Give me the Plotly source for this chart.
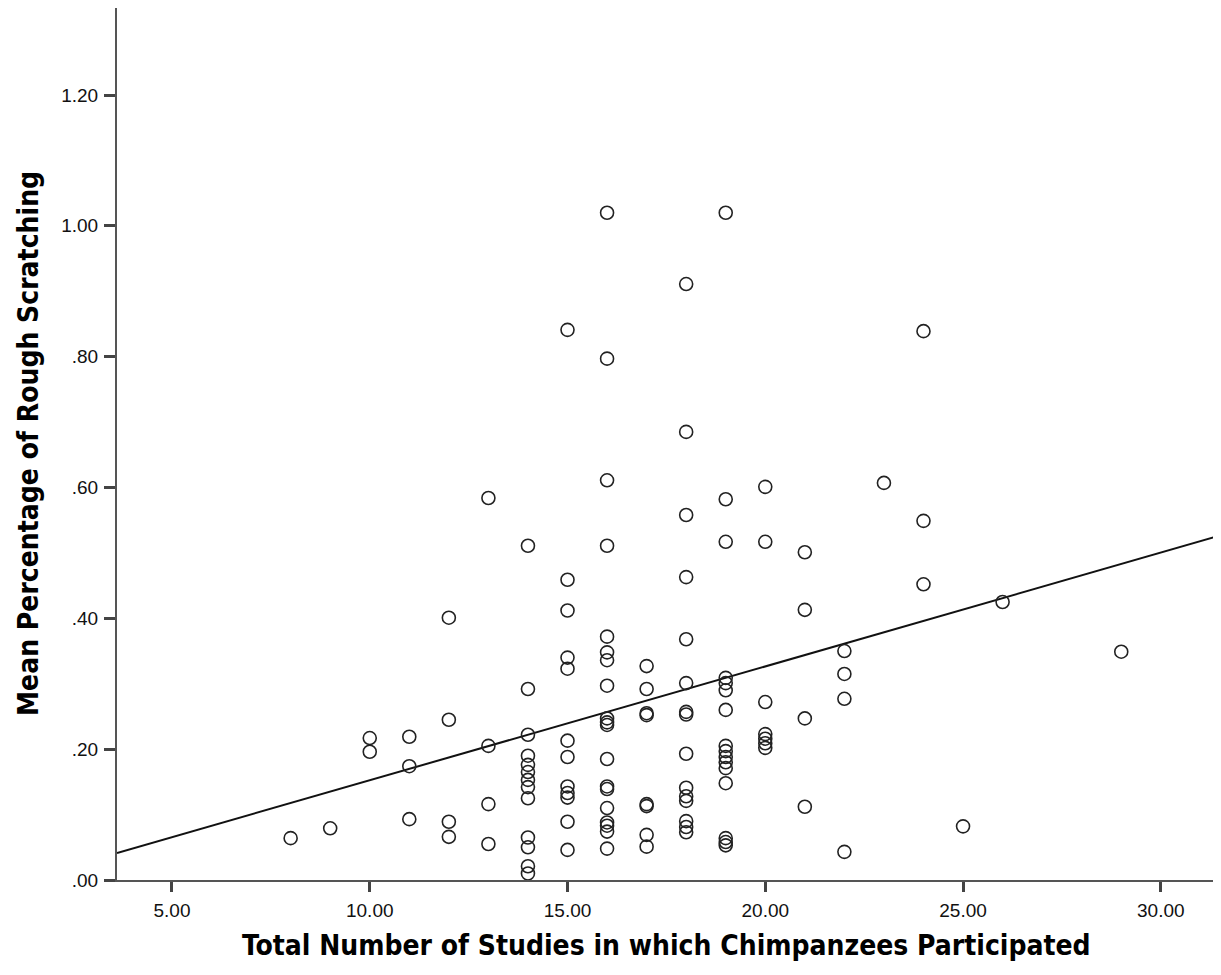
import numpy as np
import plotly.graph_objects as go

# Data: study counts (x) and mean % rough scratching (y)
y8 = [0.064]
y9 = [0.079]
y10 = [0.217, 0.196]
y11 = [0.219, 0.174, 0.093]
y12 = [0.401, 0.245, 0.089, 0.066]
y13 = [0.584, 0.205, 0.116, 0.055]
y14 = [0.511, 0.292, 0.222, 0.190, 0.176, 0.165, 0.153, 0.142, 0.125, 0.065, 0.050, 0.021, 0.010]
y15 = [0.841, 0.459, 0.412, 0.340, 0.323, 0.213, 0.188, 0.143, 0.133, 0.126, 0.089, 0.046]
y16 = [1.020, 0.797, 0.611, 0.511, 0.372, 0.348, 0.336, 0.297, 0.247, 0.241, 0.237, 0.185,
       0.143, 0.139, 0.110, 0.088, 0.083, 0.074, 0.048]
y17 = [0.327, 0.292, 0.255, 0.252, 0.116, 0.113, 0.069, 0.051]
y18 = [0.911, 0.685, 0.558, 0.463, 0.368, 0.301, 0.257, 0.253, 0.193, 0.141, 0.128, 0.121,
       0.090, 0.081, 0.073]
y19 = [1.020, 0.582, 0.517, 0.309, 0.301, 0.290, 0.260, 0.205, 0.197, 0.188, 0.180, 0.171,
       0.148, 0.064, 0.058, 0.053]
y20 = [0.601, 0.517, 0.272, 0.223, 0.216, 0.209, 0.202]
y21 = [0.501, 0.413, 0.247, 0.112]
y22 = [0.350, 0.315, 0.277, 0.043]
y23 = [0.607]
y24 = [0.839, 0.549, 0.452]
y25 = [0.082]
y26 = [0.425]
y29 = [0.349]

groups = {8: y8, 9: y9, 10: y10, 11: y11, 12: y12, 13: y13, 14: y14, 15: y15, 16: y16,
          17: y17, 18: y18, 19: y19, 20: y20, 21: y21, 22: y22, 23: y23, 24: y24,
          25: y25, 26: y26, 29: y29}

# Linear fit line as shown in the reference
fit_intercept = -0.0215
fit_slope = 0.0174

x_range = [3.61, 31.37]
y_range = [0.0, 1.333]

y_ticks = [0.0, 0.2, 0.4, 0.6, 0.8, 1.0, 1.2]
y_tick_text = [".00", ".20", ".40", ".60", ".80", "1.00", "1.20"]
x_ticks = [5, 10, 15, 20, 25, 30]
x_tick_text = ["5.00", "10.00", "15.00", "20.00", "25.00", "30.00"]

x_title = "Total Number of Studies in which Chimpanzees Participated"
y_title = "Mean Percentage of Rough Scratching"

xs, ys = [], []
for k, vals in groups.items():
    xs += [k] * len(vals)
    ys += vals

fit_x = np.array(x_range)
fit_y = fit_intercept + fit_slope * fit_x

NARROW = "DejaVu Sans Condensed, Liberation Sans Narrow, Arial Narrow, Liberation Sans, sans-serif"
REG = "Liberation Sans, Arial, sans-serif"

fig = go.Figure()
fig.add_trace(go.Scatter(
    x=fit_x, y=fit_y, mode="lines",
    line=dict(color="#111111", width=2), hoverinfo="skip", showlegend=False))
fig.add_trace(go.Scatter(
    x=xs, y=ys, mode="markers",
    marker=dict(symbol="circle-open", size=13, color="#222222", line=dict(width=1.6, color="#222222")),
    showlegend=False))

fig.update_layout(
    width=1221, height=975,
    margin=dict(l=109, r=14, t=0, b=103),
    paper_bgcolor="white", plot_bgcolor="white",
    font=dict(family=REG, color="#111111"),
)
fig.update_xaxes(
    range=x_range, tickmode="array", tickvals=x_ticks, ticktext=x_tick_text,
    showgrid=False, zeroline=False, showline=True, linecolor="#555555", linewidth=2,
    ticks="outside", ticklen=10, tickwidth=3, tickcolor="#444444",
    ticklabelstandoff=2,
    tickfont=dict(family=REG, size=19, color="#111111"),
)
fig.update_yaxes(
    range=y_range, tickmode="array", tickvals=y_ticks, ticktext=y_tick_text,
    showgrid=False, zeroline=False, showline=True, linecolor="#555555", linewidth=2,
    ticks="outside", ticklen=11, tickwidth=3, tickcolor="#444444",
    ticklabelstandoff=2,
    tickfont=dict(family=REG, size=19, color="#111111"),
)
fig.add_annotation(
    text="<b>" + x_title + "</b>", xref="paper", yref="paper", x=0.5, y=0,
    yshift=-65, yanchor="middle", xanchor="center", showarrow=False,
    font=dict(family=NARROW, size=28, color="#000000"))
fig.add_annotation(
    text="<b>" + y_title + "</b>", xref="paper", yref="paper", x=0, y=0.5,
    xshift=-89, yanchor="middle", xanchor="center", textangle=-90, showarrow=False,
    font=dict(family=NARROW, size=28, color="#000000"))

fig.write_html("out.html")
